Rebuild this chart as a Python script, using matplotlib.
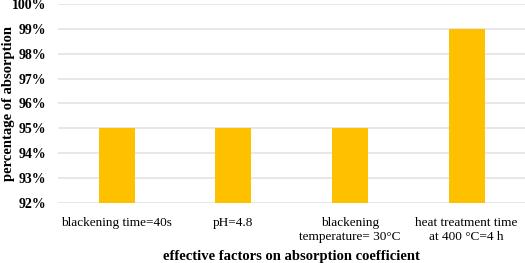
import matplotlib.pyplot as plt
from matplotlib.ticker import PercentFormatter

plt.rcParams['font.family'] = ['Liberation Serif', 'DejaVu Serif']

# data
factors = ['blackening time=40s', 'pH=4.8', 'blackening\ntemperature= 30°C',
           'heat treatment time\nat 400 °C=4 h']
absorption = [95, 95, 95, 99]
y_ticks = [92, 93, 94, 95, 96, 97, 98, 99, 100]

fig = plt.figure(figsize=(5.25, 2.63), dpi=100)
ax = fig.add_axes([0.111, 0.228, 0.889, 0.757])

x = range(len(factors))
ax.bar(x, absorption, width=0.31, color='#FFC000', zorder=3)

ax.set_ylim(92, 100)
ax.set_xlim(-0.5, len(factors) - 0.5)
ax.set_yticks(y_ticks)
ax.yaxis.set_major_formatter(PercentFormatter(decimals=0))
ax.set_xticks(list(x))
ax.set_xticklabels(factors, fontsize=9.5)
for lbl in ax.get_yticklabels():
    lbl.set_fontweight('bold')
    lbl.set_fontsize(10)

ax.grid(axis='y', color='#E3E3E3', linewidth=1.2, zorder=0)
for s in ax.spines.values():
    s.set_visible(False)
ax.tick_params(length=0)
ax.tick_params(axis='x', pad=10)
ax.tick_params(axis='y', pad=8.5)

ax.set_ylabel('percentage of absorption', fontsize=10.5, fontweight='bold')
ax.yaxis.set_label_coords(-0.093, 0.5)
ax.set_xlabel('effective factors on absorption coefficient', fontsize=10.5,
              fontweight='bold', labelpad=5)

fig.savefig('out.png', dpi=100)
